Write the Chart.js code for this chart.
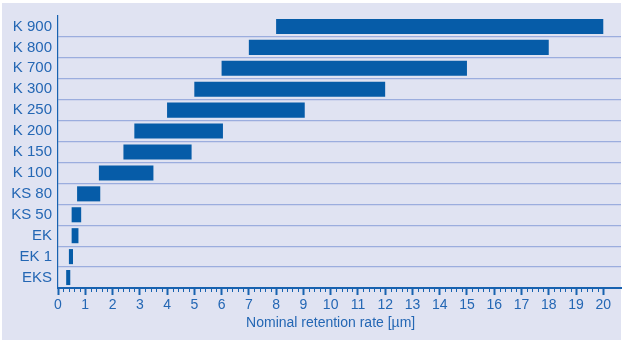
<!DOCTYPE html>
<html>
<head>
<meta charset="utf-8">
<script src="https://cdn.jsdelivr.net/npm/chart.js@4"></script>
<style>
  body { margin: 0; background: #fff; }
  .wrap { position: relative; width: 626px; height: 345px; }
  .panel { position: absolute; left: 2px; top: 3px; width: 619px; height: 337px; background: #e0e3f2; }
  #chart { position: absolute; left: 0; top: 0; }
</style>
</head>
<body>
<div class="wrap">
  <div class="panel"></div>
  <canvas id="chart" width="626" height="345"></canvas>
</div>
<script>
const categories = ["K 900", "K 800", "K 700", "K 300", "K 250", "K 200", "K 150", "K 100", "KS 80", "KS 50", "EK", "EK 1", "EKS"];
const rangeStart = [8, 7, 6, 5, 4, 2.8, 2.4, 1.5, 0.7, 0.5, 0.5, 0.4, 0.3];
const rangeEnd = [20, 18, 15, 12, 9.05, 6.05, 4.9, 3.5, 1.55, 0.85, 0.75, 0.55, 0.45];
const xTicks = [0, 1, 2, 3, 4, 5, 6, 7, 8, 9, 10, 11, 12, 13, 14, 15, 16, 17, 18, 19, 20];
const axisTitle = "Nominal retention rate [µm]";

const barColor = "#065ca8";
const axisColor = "#1862b0";
const textColor = "#2467b4";
const gridColor = "#9badde";
const fontFamily = "'Liberation Sans', Arial, sans-serif";

// minor ticks + axis title centred under the 0..20 range
const extras = {
  id: "extras",
  afterDraw(chart) {
    const ctx = chart.ctx;
    const x = chart.scales.x;
    const y0 = chart.chartArea.bottom;
    const last = xTicks[xTicks.length - 1];
    ctx.save();
    ctx.strokeStyle = axisColor;
    ctx.lineWidth = 1;
    for (let i = 1; i < last * 5; i++) {
      if (i % 5 === 0) continue;
      const px = Math.round(x.getPixelForValue(i / 5)) + 0.5;
      ctx.beginPath();
      ctx.moveTo(px, y0);
      ctx.lineTo(px, y0 + 4);
      ctx.stroke();
    }
    ctx.fillStyle = textColor;
    ctx.font = "14px " + fontFamily;
    ctx.textAlign = "center";
    ctx.textBaseline = "middle";
    const cx = (x.getPixelForValue(xTicks[0]) + x.getPixelForValue(last)) / 2;
    ctx.fillText(axisTitle, cx, 323);
    ctx.restore();
  },
};

new Chart(document.getElementById("chart"), {
  type: "bar",
  data: {
    labels: categories,
    datasets: [
      {
        data: categories.map((c, i) => [rangeStart[i], rangeEnd[i]]),
        backgroundColor: barColor,
        borderWidth: 0,
        barPercentage: 0.72,
        categoryPercentage: 1,
      },
    ],
  },
  options: {
    indexAxis: "y",
    responsive: false,
    animation: false,
    layout: { padding: { top: 16, right: 5, bottom: 0, left: 0 } },
    plugins: { legend: { display: false }, tooltip: { enabled: false } },
    scales: {
      x: {
        min: 0,
        max: 20.65,
        afterBuildTicks: (s) => {
          s.ticks = xTicks.map((v) => ({ value: v }));
        },
        afterFit: (s) => {
          s.height = 57;
        },
        ticks: {
          autoSkip: false,
          maxRotation: 0,
          padding: 2,
          color: textColor,
          font: { family: fontFamily, size: 14 },
        },
        grid: {
          drawOnChartArea: false,
          tickLength: 7,
          tickWidth: 2,
          tickColor: axisColor,
        },
        border: { color: axisColor, width: 2 },
      },
      y: {
        afterFit: (s) => {
          s.width = 58;
        },
        ticks: {
          autoSkip: false,
          padding: 6,
          color: textColor,
          font: { family: fontFamily, size: 15 },
        },
        grid: {
          drawTicks: false,
          color: (c) => (c.index === 0 ? "rgba(0,0,0,0)" : gridColor),
          lineWidth: 1.2,
        },
        border: { color: axisColor, width: 1.2 },
      },
    },
  },
  plugins: [extras],
});
</script>
</body>
</html>
